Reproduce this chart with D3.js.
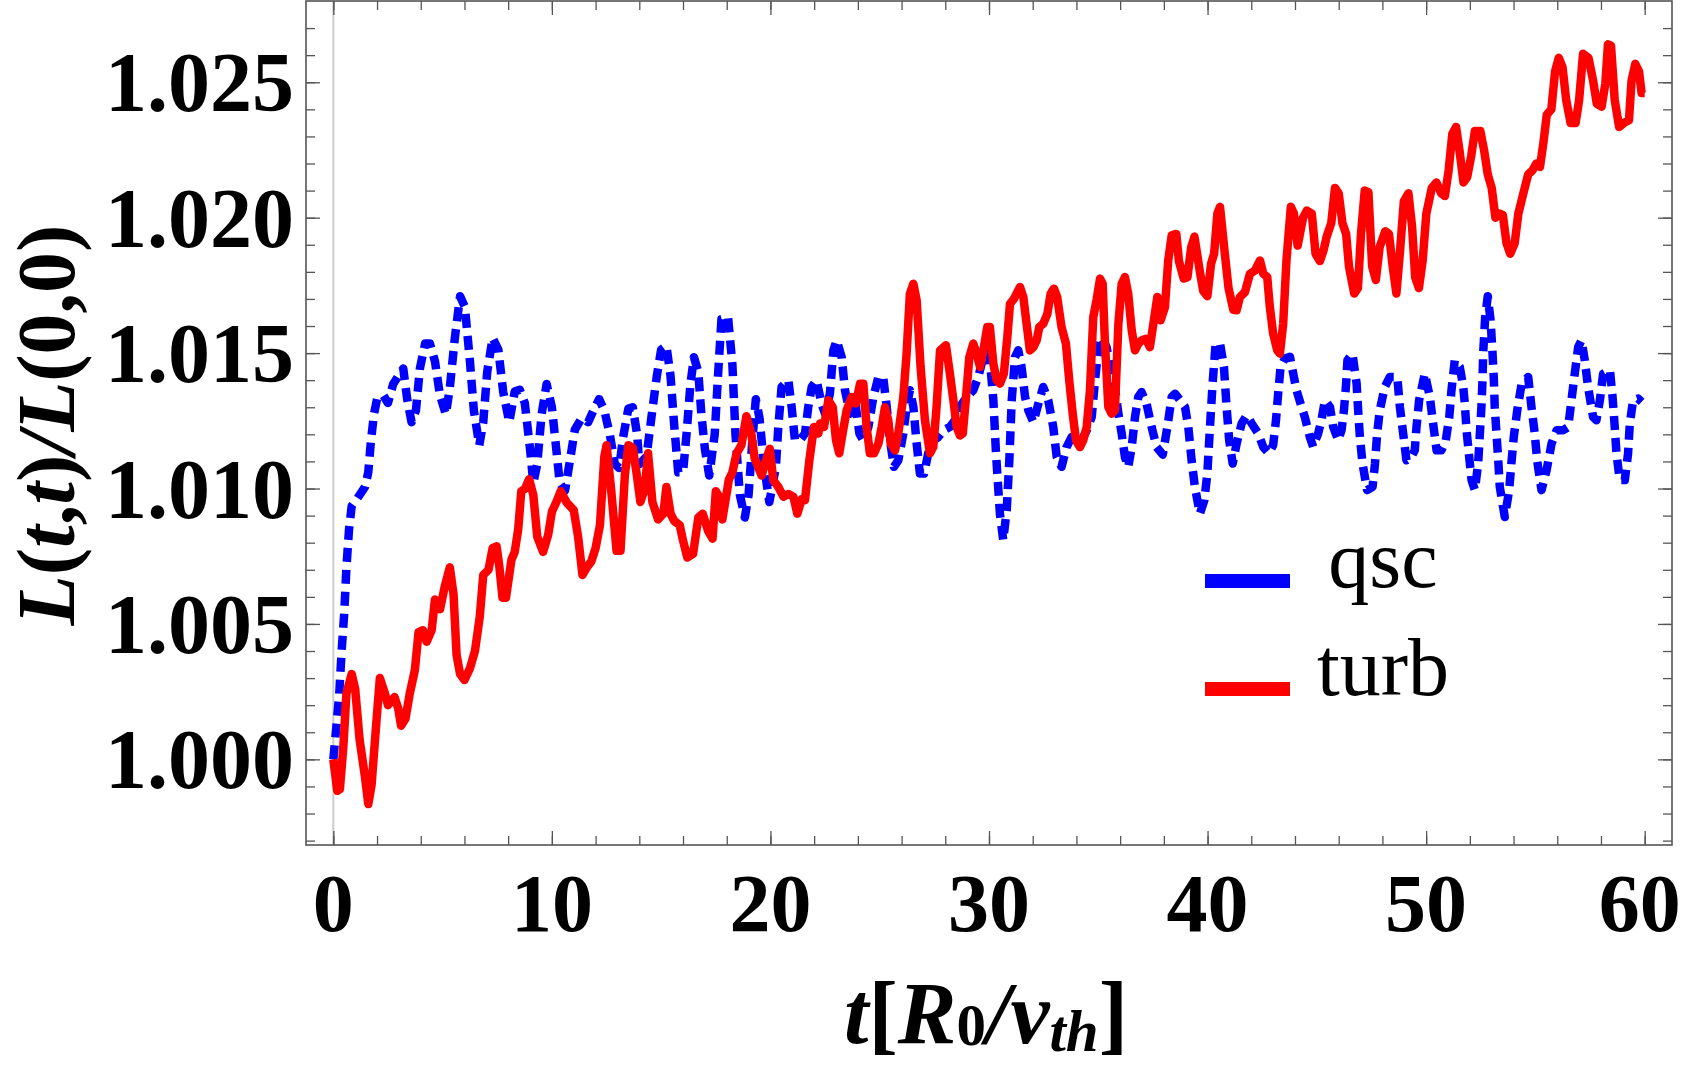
<!DOCTYPE html>
<html lang="en">
<head>
<meta charset="utf-8">
<title>L(t,t)/L(0,0)</title>
<style>
  body { margin: 0; background: #fff; }
  svg { display: block; }
  text { font-family: "Liberation Serif", "Times New Roman", serif; }
</style>
</head>
<body>
<div id="wrapper"></div>
<script src="https://cdn.jsdelivr.net/npm/d3@7/dist/d3.min.js"></script>
<script>
// tick values
const xMajorTicks = [0, 10, 20, 30, 40, 50, 60]
const yMajorTicks = [1.000, 1.005, 1.010, 1.015, 1.020, 1.025]
const legendNames = ["qsc", "turb"]

// [t, (L(t,t)/L(0,0) - 1) * 1000]
const qscPoints = [
  [0,0],[0.15,1.3],[0.27,2.4],[0.38,4.0],[0.5,5.4],[0.6,7.1],[0.72,8.5],[0.84,9.35],[1.07,9.6],[1.45,10.06],
  [1.6,10.6],[1.72,11.75],[1.86,12.74],[2.0,13.3],[2.29,13.44],[2.5,13.16],[2.74,13.86],[2.97,14.15],[3.2,14.43],[3.38,13.3],
  [3.58,12.45],[3.78,12.88],[3.96,14.43],[4.2,15.35],[4.42,15.35],[4.65,14.7],[4.88,13.44],[5.15,12.74],[5.33,13.72],[5.56,15.56],
  [5.8,17.1],[6.02,16.7],[6.25,14.7],[6.43,12.88],[6.68,11.6],[6.86,12.45],[7.04,14.3],[7.29,15.56],[7.55,15.13],[7.77,13.58],
  [8.05,12.45],[8.3,13.58],[8.53,13.65],[8.76,13.16],[9.0,11.47],[9.15,10.2],[9.33,10.9],[9.53,12.74],[9.76,13.86],[10.0,13.0],
  [10.2,11.47],[10.36,10.2],[10.6,9.92],[10.8,10.9],[11.05,12.17],[11.36,12.6],[11.66,12.45],[11.9,12.88],[12.16,13.3],[12.4,12.88],
  [12.65,12.0],[12.88,10.9],[13.08,10.76],[13.26,11.9],[13.5,12.95],[13.7,13.0],[13.9,12.0],[14.0,10.9],[14.33,11.18],[14.55,12.6],
  [14.8,14.15],[15.0,15.13],[15.24,15.27],[15.43,14.15],[15.6,12.3],[15.78,10.6],[16.0,10.6],[16.16,12.0],[16.34,13.86],[16.5,14.85],
  [16.7,14.3],[16.84,12.74],[17.0,11.47],[17.2,10.48],[17.45,12.0],[17.6,14.15],[17.76,16.26],[18.06,16.33],[18.26,14.57],[18.4,12.0],
  [18.6,9.77],[18.83,8.93],[19.0,9.77],[19.17,11.75],[19.33,13.3],[19.5,12.6],[19.7,10.9],[19.95,9.5],[20.25,10.8],[20.36,12.27],
  [20.51,13.75],[20.82,14.0],[20.97,13.01],[21.12,11.78],[21.35,11.78],[21.58,12.03],[21.73,13.01],[21.89,13.75],[22.11,14.0],[22.34,13.13],
  [22.5,12.76],[22.72,13.5],[22.88,15.1],[23.03,15.47],[23.26,14.85],[23.41,13.63],[23.64,12.76],[23.87,13.26],[24.07,12.03],[24.25,11.78],
  [24.48,12.27],[24.71,13.38],[24.94,14.12],[25.16,14.12],[25.32,13.01],[25.47,11.78],[25.65,10.8],[25.85,11.04],[26.08,12.03],[26.23,13.01],
  [26.38,13.63],[26.54,13.01],[26.69,11.66],[26.84,10.55],[27.03,10.55],[27.22,11.3],[27.45,11.78],[27.68,11.9],[27.91,12.15],[28.21,12.27],
  [28.44,12.52],[28.67,13.01],[28.98,13.38],[29.28,13.63],[29.51,14.12],[29.74,14.85],[29.89,15.47],[30.04,14.73],[30.2,13.26],[30.32,11.3],
  [30.43,9.93],[30.5,9.07],[30.65,8.09],[30.81,9.2],[30.93,11.04],[31.04,13.26],[31.19,14.85],[31.34,15.1],[31.49,14.49],[31.65,13.38],
  [31.8,12.89],[32.03,12.45],[32.26,13.13],[32.48,13.75],[32.71,13.26],[32.94,12.27],[33.1,11.16],[33.32,10.8],[33.55,11.53],[33.78,11.9],
  [34.01,11.78],[34.24,11.78],[34.47,12.15],[34.7,12.64],[34.85,14.0],[35.0,15.1],[35.15,15.59],[35.38,15.22],[35.61,14.24],[35.76,13.75],
  [35.92,12.76],[36.07,12.03],[36.22,11.16],[36.37,10.8],[36.53,11.53],[36.68,12.64],[36.83,13.38],[36.98,13.56],[37.21,13.13],[37.44,12.27],
  [37.67,11.53],[37.95,11.25],[38.16,12.27],[38.36,13.38],[38.51,13.5],[38.74,13.26],[38.97,13.01],[39.12,12.27],[39.27,11.04],[39.42,10.06],
  [39.65,9.07],[39.85,9.56],[39.99,10.55],[40.11,12.27],[40.23,13.87],[40.37,15.35],[40.57,15.35],[40.75,14.49],[40.87,13.01],[40.99,11.78],
  [41.15,10.92],[41.33,11.66],[41.56,12.4],[41.79,12.7],[42.02,12.4],[42.32,12.03],[42.55,11.53],[42.8,11.3],[43.0,11.6],[43.13,12.52],
  [43.23,13.5],[43.34,14.49],[43.54,14.8],[43.77,14.86],[43.92,14.24],[44.07,13.63],[44.3,13.01],[44.45,12.64],[44.68,11.9],[44.83,11.54],
  [45.06,12.03],[45.21,12.52],[45.37,13.26],[45.6,13.01],[45.75,12.27],[45.98,11.78],[46.13,12.15],[46.24,12.89],[46.33,13.75],[46.4,14.73],
  [46.63,14.98],[46.82,13.87],[46.89,12.89],[46.97,11.9],[47.09,10.92],[47.3,9.94],[47.55,10.06],[47.66,10.92],[47.76,12.03],[47.88,12.89],
  [48.11,13.75],[48.34,14.12],[48.68,14.12],[48.8,13.01],[48.95,12.03],[49.1,11.04],[49.33,11.17],[49.48,11.41],[49.56,12.27],[49.68,13.26],
  [49.94,14.24],[50.17,13.38],[50.32,12.4],[50.48,11.41],[50.7,11.41],[50.9,11.78],[51.06,12.64],[51.16,13.63],[51.31,14.73],[51.54,14.49],
  [51.7,13.75],[51.77,13.13],[51.85,12.15],[51.97,11.17],[52.08,10.31],[52.23,9.94],[52.38,10.92],[52.46,12.03],[52.53,13.01],[52.58,14.0],
  [52.61,14.98],[52.7,16.3],[52.82,17.1],[52.95,16.2],[53.04,14.98],[53.1,14.0],[53.14,13.01],[53.22,12.03],[53.3,11.04],[53.37,10.06],
  [53.6,8.95],[53.8,9.94],[53.9,10.92],[54.01,11.9],[54.17,12.89],[54.37,13.87],[54.67,14.12],[54.82,13.01],[54.97,12.03],[55.08,11.04],
  [55.28,9.94],[55.51,10.67],[55.74,11.66],[55.97,12.15],[56.27,12.15],[56.5,12.27],[56.65,13.26],[56.8,14.24],[56.96,15.23],[57.11,15.47],
  [57.26,14.73],[57.41,13.75],[57.64,12.64],[57.79,12.52],[57.95,13.26],[58.1,14.24],[58.41,14.37],[58.53,13.38],[58.63,12.27],[58.71,11.29],
  [58.86,10.31],[59.09,10.31],[59.24,11.29],[59.32,12.4],[59.47,13.26],[59.7,13.32],[59.86,13.2]
]

const turbPoints = [
  [0,0],[0.18,-1.16],[0.3,-1.1],[0.46,0.47],[0.6,2.44],[0.84,3.15],[1.0,2.6],[1.2,0.75],[1.45,-0.66],[1.6,-1.65],
  [1.75,-0.95],[1.95,1.17],[2.13,3.0],[2.36,2.44],[2.5,2.0],[2.8,2.3],[2.97,1.88],[3.1,1.24],[3.3,1.5],[3.5,2.44],
  [3.73,3.29],[3.9,4.7],[4.1,4.77],[4.27,4.34],[4.5,4.77],[4.65,5.9],[4.88,5.54],[5.1,6.39],[5.33,7.09],[5.5,6.1],
  [5.64,3.85],[5.8,3.15],[6.0,2.93],[6.25,3.36],[6.48,4.0],[6.7,5.26],[6.86,6.81],[7.1,7.0],[7.29,7.8],[7.47,7.87],
  [7.6,7.09],[7.74,5.97],[7.9,5.97],[8.15,7.37],[8.3,7.66],[8.46,8.5],[8.6,9.9],[8.77,9.99],[8.96,10.34],[9.15,9.77],
  [9.33,8.22],[9.6,7.66],[9.83,8.29],[10.0,9.14],[10.2,9.49],[10.4,9.9],[10.67,9.49],[11.0,9.2],[11.2,8.22],[11.4,6.81],
  [11.6,7.09],[11.8,7.3],[12.0,7.8],[12.2,8.65],[12.4,11.18],[12.5,11.6],[12.7,10.06],[12.96,7.7],[13.14,7.7],[13.34,10.5],
  [13.5,11.6],[13.7,11.5],[13.87,10.6],[14.05,9.5],[14.25,10.0],[14.4,11.3],[14.6,9.5],[14.86,8.86],[15.1,9.07],[15.24,10.06],
  [15.43,9.07],[15.6,8.8],[15.85,8.65],[16.0,8.08],[16.2,7.45],[16.46,7.59],[16.7,8.93],[16.9,9.07],[17.15,8.43],[17.35,8.15],
  [17.5,9.9],[17.7,9.63],[17.8,8.86],[18.1,10.34],[18.26,10.6],[18.45,11.3],[18.67,11.6],[18.9,12.67],[19.13,12.0],[19.28,11.1],
  [19.6,10.48],[19.74,10.9],[19.97,11.47],[20.13,10.3],[20.36,10.06],[20.6,9.7],[20.82,9.8],[21.05,9.7],[21.23,9.07],[21.43,9.6],
  [21.58,9.57],[21.78,11.04],[21.99,12.27],[22.19,12.03],[22.27,12.4],[22.45,12.27],[22.65,13.26],[22.85,13.0],[23.0,11.78],[23.15,11.3],
  [23.3,12.03],[23.49,12.9],[23.72,13.38],[23.91,13.14],[24.1,13.87],[24.25,13.87],[24.4,12.27],[24.55,11.3],[24.74,11.3],[24.94,11.66],
  [25.09,12.27],[25.24,13.0],[25.39,12.52],[25.5,11.66],[25.7,11.41],[25.85,12.03],[26.08,13.38],[26.23,14.98],[26.38,17.19],[26.54,17.56],
  [26.69,16.95],[26.87,14.49],[27.07,12.52],[27.3,11.3],[27.45,11.53],[27.6,13.0],[27.76,15.1],[28.03,15.29],[28.21,14.24],[28.37,13.26],
  [28.52,12.27],[28.67,11.96],[28.8,12.03],[28.95,13.38],[29.1,14.85],[29.28,15.35],[29.43,14.98],[29.59,14.49],[29.74,15.1],[29.92,15.96],
  [30.04,15.96],[30.2,14.6],[30.35,14.0],[30.5,13.87],[30.68,14.24],[30.84,15.6],[30.96,16.82],[31.14,17.0],[31.26,17.19],[31.42,17.44],
  [31.57,17.07],[31.72,16.08],[31.87,15.1],[32.03,15.22],[32.18,15.47],[32.3,15.96],[32.48,16.08],[32.67,16.45],[32.82,17.19],[32.97,17.38],
  [33.12,17.07],[33.32,15.96],[33.52,15.35],[33.67,14.0],[33.83,12.76],[33.98,11.78],[34.16,11.53],[34.31,11.78],[34.47,12.27],[34.62,13.63],
  [34.77,16.33],[34.92,16.95],[35.08,17.75],[35.2,17.56],[35.3,15.47],[35.46,13.01],[35.61,12.76],[35.76,12.89],[35.92,16.08],[36.07,17.56],
  [36.22,17.81],[36.37,17.19],[36.53,15.84],[36.68,15.1],[36.83,15.35],[36.98,15.47],[37.18,15.53],[37.36,15.22],[37.52,16.08],[37.7,17.07],
  [37.85,16.21],[38.05,16.7],[38.2,18.42],[38.36,19.35],[38.57,19.4],[38.69,18.4],[38.91,17.75],[39.08,17.8],[39.25,18.9],[39.4,19.3],
  [39.65,18.0],[39.8,17.3],[39.99,17.1],[40.16,18.3],[40.3,18.67],[40.45,20.15],[40.57,20.4],[40.79,18.67],[40.96,17.4],[41.18,16.6],
  [41.33,16.58],[41.48,17.07],[41.71,17.25],[41.94,17.93],[42.17,18.05],[42.4,18.42],[42.55,17.93],[42.73,17.81],[42.85,16.7],[43.0,15.72],
  [43.19,15.1],[43.31,14.98],[43.46,16.08],[43.61,18.42],[43.81,20.4],[43.95,20.15],[44.12,18.97],[44.37,20.0],[44.54,20.26],[44.77,20.15],
  [44.94,18.67],[45.14,18.4],[45.31,18.8],[45.45,19.3],[45.66,19.8],[45.83,21.1],[46.0,20.9],[46.17,19.8],[46.34,19.4],[46.47,18.2],
  [46.71,17.2],[46.88,17.4],[47.02,19.4],[47.19,21.0],[47.36,20.94],[47.53,18.2],[47.7,17.7],[47.87,18.9],[48.13,19.5],[48.3,19.4],
  [48.47,18.2],[48.64,17.2],[48.81,18.8],[48.98,20.6],[49.19,20.9],[49.36,19.65],[49.5,17.8],[49.67,17.4],[49.84,18.4],[50.01,20.15],
  [50.26,21.1],[50.47,21.3],[50.69,20.9],[50.86,20.8],[51.03,21.75],[51.2,23.1],[51.37,23.35],[51.54,22.4],[51.71,21.3],[51.88,21.5],
  [52.06,22.26],[52.23,23.2],[52.48,23.2],[52.65,22.5],[52.82,21.6],[53.0,21.1],[53.17,20.0],[53.34,20.15],[53.51,20.1],[53.68,19.05],
  [53.85,18.67],[54.05,19.05],[54.22,20.15],[54.45,20.9],[54.67,21.6],[54.87,21.75],[55.04,22.0],[55.21,21.87],[55.38,22.85],[55.52,23.8],
  [55.73,24.0],[55.9,25.4],[56.07,25.9],[56.24,25.56],[56.41,24.34],[56.61,23.5],[56.84,23.5],[57.0,24.34],[57.18,26.05],[57.43,25.9],
  [57.64,25.06],[57.81,24.2],[58.03,24.1],[58.2,24.95],[58.32,26.4],[58.46,26.35],[58.63,24.34],[58.83,23.35],[59.05,23.5],[59.28,23.6],
  [59.4,25.06],[59.57,25.68],[59.74,25.4],[59.86,24.6],[60.0,24.6]
]

const width = 1685
const height = 1065
const frame = { left: 306, right: 1672, top: 1, bottom: 845 }

const svg = d3.select("#wrapper")
  .append("svg")
  .attr("width", width)
  .attr("height", height)

const x = d3.scaleLinear()
  .domain([-1.25, 61.25])
  .range([frame.left, frame.right])

const y = d3.scaleLinear()
  .domain([0.996838, 1.028])
  .range([frame.bottom, frame.top])

const xMinor = d3.range(0, 61, 2)
const yMinor = d3.range(-3, 28).map(k => 1 + k / 1000)

// vertical line at t = 0
svg.append("line")
  .attr("x1", x(0)).attr("x2", x(0))
  .attr("y1", frame.top).attr("y2", frame.bottom)
  .attr("stroke", "#cccccc")
  .attr("stroke-width", 2)

// frame ticks (inward), minor first then major
function tickAxis(axis, pos, values, size) {
  const g = svg.append("g")
    .attr("transform", pos)
    .call(axis.tickValues(values).tickSize(-size).tickFormat(""))
  g.select(".domain").remove()
  g.attr("color", "#555").selectAll("line").attr("stroke-width", 1.3)
  return g
}
tickAxis(d3.axisBottom(x), `translate(0,${frame.bottom})`, xMinor, 9)
tickAxis(d3.axisBottom(x), `translate(0,${frame.bottom})`, xMajorTicks, 14)
tickAxis(d3.axisTop(x), `translate(0,${frame.top})`, xMinor, 9)
tickAxis(d3.axisTop(x), `translate(0,${frame.top})`, xMajorTicks, 14)
tickAxis(d3.axisLeft(y), `translate(${frame.left},0)`, yMinor, 9)
tickAxis(d3.axisLeft(y), `translate(${frame.left},0)`, yMajorTicks, 14)
tickAxis(d3.axisRight(y), `translate(${frame.right},0)`, yMinor, 9)
tickAxis(d3.axisRight(y), `translate(${frame.right},0)`, yMajorTicks, 14)

svg.append("rect")
  .attr("x", frame.left)
  .attr("y", frame.top)
  .attr("width", frame.right - frame.left)
  .attr("height", frame.bottom - frame.top)
  .attr("fill", "none")
  .attr("stroke", "#555")
  .attr("stroke-width", 1.6)

// tick labels
svg.append("g")
  .selectAll("text")
  .data(xMajorTicks)
  .join("text")
  .attr("x", d => x(d) - (d === 60 ? 5 : 0))
  .attr("y", 931)
  .attr("text-anchor", "middle")
  .attr("font-size", 82)
  .attr("font-weight", "bold")
  .text(d => d)

svg.append("g")
  .selectAll("text")
  .data(yMajorTicks)
  .join("text")
  .attr("x", 294)
  .attr("y", d => y(d) + 29)
  .attr("text-anchor", "end")
  .attr("font-size", 84)
  .attr("font-weight", "bold")
  .text(d => d3.format(".3f")(d))

// data lines
svg.append("defs").append("clipPath")
  .attr("id", "plot-clip")
  .append("rect")
  .attr("x", frame.left).attr("y", frame.top)
  .attr("width", frame.right - frame.left)
  .attr("height", frame.bottom - frame.top)

const line = d3.line()
  .x(d => x(d[0]))
  .y(d => y(1 + d[1] / 1000))

const plot = svg.append("g").attr("clip-path", "url(#plot-clip)")

plot.append("path")
  .attr("d", line(qscPoints))
  .attr("fill", "none")
  .attr("stroke", "#0000ff")
  .attr("stroke-width", 8.5)
  .attr("stroke-dasharray", "14,8")
  .attr("stroke-linejoin", "round")

plot.append("path")
  .attr("d", line(turbPoints))
  .attr("fill", "none")
  .attr("stroke", "#ff0000")
  .attr("stroke-width", 8.5)
  .attr("stroke-linejoin", "round")

// legend
const legendColors = ["#0000ff", "#ff0000"]
const legendY = [581, 689]
const legend = svg.append("g")
legend.selectAll("rect")
  .data(legendNames)
  .join("rect")
  .attr("x", 1205)
  .attr("y", (d, i) => legendY[i] - 7)
  .attr("width", 85)
  .attr("height", 14)
  .attr("fill", (d, i) => legendColors[i])
legend.selectAll("text")
  .data(legendNames)
  .join("text")
  .attr("x", 1383)
  .attr("y", (d, i) => legendY[i] + 6)
  .attr("text-anchor", "middle")
  .attr("font-size", 82)
  .text(d => d)

// axis titles
const xTitle = svg.append("text")
  .attr("x", 986)
  .attr("y", 1043)
  .attr("text-anchor", "middle")
  .attr("font-size", 88)
  .attr("font-weight", "bold")
xTitle.append("tspan").attr("font-style", "italic").text("t")
xTitle.append("tspan").text("[")
xTitle.append("tspan").attr("font-style", "italic").text("R")
xTitle.append("tspan").attr("font-size", 59).attr("dy", 2).text("0")
xTitle.append("tspan").attr("dy", -2).attr("font-style", "italic").text("/")
xTitle.append("tspan").attr("font-style", "italic").text("v")
xTitle.append("tspan").attr("font-style", "italic").attr("font-size", 59).attr("dy", 8).text("th")
xTitle.append("tspan").attr("dy", -8).text("]")

const yTitle = svg.append("text")
  .attr("transform", "translate(74,425) rotate(-90)")
  .attr("text-anchor", "middle")
  .attr("font-size", 82)
  .attr("font-weight", "bold")
yTitle.append("tspan").attr("font-style", "italic").text("L")
yTitle.append("tspan").text("(")
yTitle.append("tspan").attr("font-style", "italic").text("t")
yTitle.append("tspan").text(",")
yTitle.append("tspan").attr("font-style", "italic").text("t")
yTitle.append("tspan").text(")")
yTitle.append("tspan").attr("font-style", "italic").text("/L")
yTitle.append("tspan").text("(0,0)")
</script>
</body>
</html>
